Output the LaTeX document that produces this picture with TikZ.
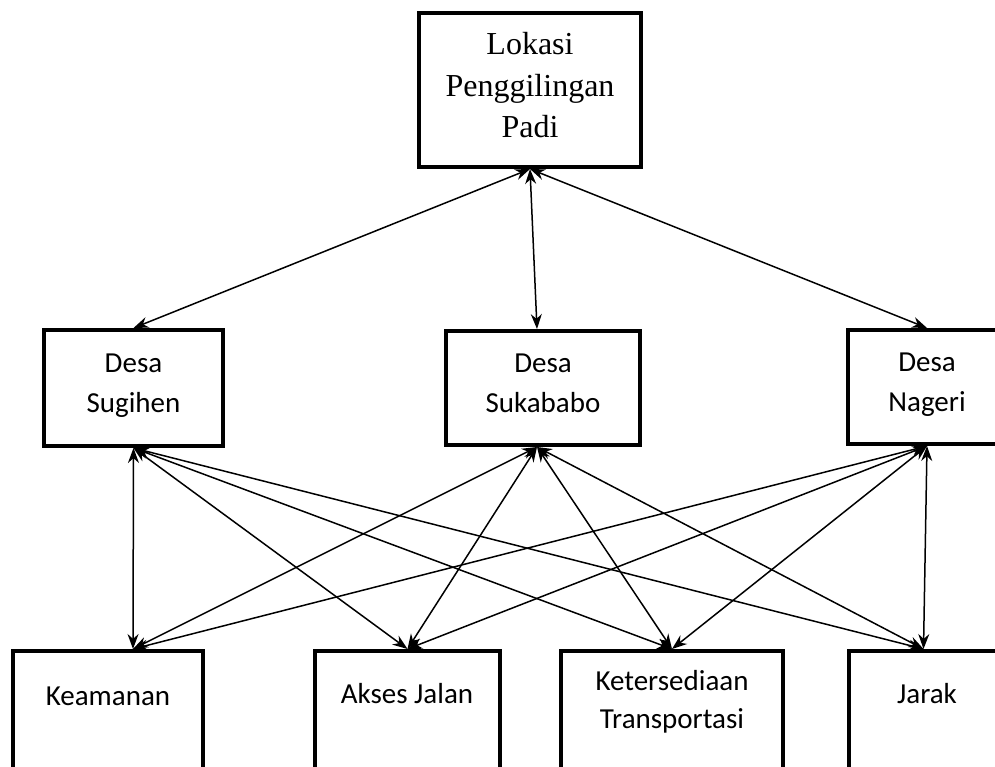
\documentclass[tikz,border=0pt]{standalone}
\usepackage{fontspec}
\newfontfamily\serifF{Liberation Serif}
\newfontfamily\calF{Carlito}
\usetikzlibrary{arrows.meta}
\newcommand{\tstr}{\rule[-15pt]{0pt}{43pt}}
\newcommand{\dstr}{\rule[-16pt]{0pt}{40pt}}
\tikzset{
  box/.style={draw=black, line width=4pt, rectangle, inner sep=0pt, fill=white},
  topbox/.style={box, align=center, font=\serifF\fontsize{32}{41.5}\selectfont},
  desabox/.style={box, align=center, font=\calF\fontsize{29}{40}\selectfont},
  lbl/.style={inner sep=0pt, align=center, font=\calF\fontsize{29}{38}\selectfont},
  arr/.style={{Stealth[length=15pt,width=11pt]}-{Stealth[length=15pt,width=11pt]}, line width=1.5pt}
}
\begin{document}
\begin{tikzpicture}[x=1pt,y=-1pt]
\useasboundingbox (0,0) rectangle (995,767);
\clip (0,0) rectangle (995,767);
\fill[white] (0,0) rectangle (995,767);
% top
\node[topbox, minimum width=222pt, minimum height=154pt] (top) at (530,90) {\tstr Lokasi\\Penggilingan\\Padi\tstr};
% desa
\node[desabox, minimum width=179pt, minimum height=116pt] (sg) at (133.5,388) {\dstr Desa\\Sugihen\dstr};
\node[desabox, minimum width=194pt, minimum height=114pt] (sb) at (543,388) {\dstr Desa\\Sukababo\dstr};
\node[desabox, minimum width=158pt, minimum height=114pt] (ng) at (927,387) {\dstr Desa\\Nageri\dstr};
% bottom boxes
\node[box, minimum width=190pt, minimum height=149pt] (km) at (108,725.5) {};
\node[box, minimum width=185pt, minimum height=149pt] (aj) at (407.5,725.5) {};
\node[box, minimum width=222pt, minimum height=149pt] (kt) at (672,725.5) {};
\node[box, minimum width=157pt, minimum height=149pt] (jr) at (927.5,725.5) {};
\node[lbl, anchor=base] (kmt) at (108,705) {Keamanan};
\node[lbl, anchor=base] (ajt) at (407,703) {Akses Jalan};
\node[lbl] (ktt) at (672,702) {Ketersediaan\\Transportasi};
\node[lbl, anchor=base] (jrt) at (927,703) {Jarak};
% anchor points
\coordinate (sbN) at ([xshift=-6pt]sb.north);
\coordinate (sbS) at ([xshift=-6pt]sb.south);
\coordinate (kmN) at ([xshift=25pt]km.north);
\coordinate (jrN) at ([xshift=-4pt]jr.north);
% top edges
\draw[arr] (top.south) -- (sg.north);
\draw[arr] (top.south) -- (sbN);
\draw[arr] (top.south) -- (ng.north);
% lower edges
\foreach \d in {sg.south, sbS, ng.south}{
  \foreach \b in {kmN, aj.north, kt.north, jrN}{
    \draw[arr] (\d) -- (\b);
  }
}
\end{tikzpicture}
\end{document}
